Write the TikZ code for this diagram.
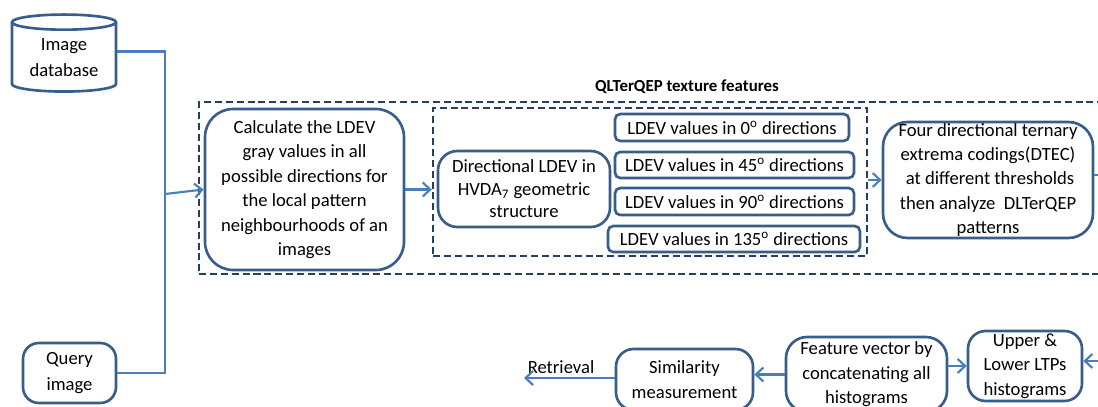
\documentclass[tikz,border=0pt]{standalone}
\usepackage{fontspec}
\setmainfont{Carlito}
\usetikzlibrary{arrows.meta,positioning,calc,shapes.geometric}
\definecolor{boxblue}{HTML}{385D8A}
\definecolor{linkblue}{HTML}{4A7EBB}
\definecolor{framenavy}{HTML}{243F60}
\tikzset{
  stage/.style={rectangle, rounded corners=#1, draw=boxblue, line width=1.5pt, fill=white,
                align=center, inner sep=0pt, font=\fontsize{10.6}{13.9}\selectfont},
  stage/.default=12pt,
  frame/.style={rectangle, draw=framenavy, line width=1.4pt, dash pattern=on 4pt off 2.2pt, inner sep=0pt},
  link/.style={line width=1.2pt, draw=linkblue},
  arr/.style={-{Straight Barb[length=1.5mm,width=2.8mm]}, line width=1.2pt, draw=linkblue},
}

\begin{document}
\begin{tikzpicture}
\useasboundingbox (0,0) rectangle (21.96,-8.14);
\clip (0,0) rectangle (21.96,-8.14);
% inputs
\node[cylinder, shape border rotate=90, aspect=0.22, draw=boxblue, line width=1.5pt, minimum width=2.08cm, minimum height=1.54cm, align=center, inner sep=0pt, font=\fontsize{10.6}{14.6}\selectfont] (db) at (1.28,-1.15) {Image\\database};
\node[stage=9pt, minimum width=1.86cm, minimum height=1.2cm, font=\fontsize{10.6}{14.6}\selectfont] (query) at (1.39,-7.46) {Query\\image};
\coordinate (bus) at (3.3,-3.88);
\draw[link] ([yshift=3.4pt]db.east) -| (bus) |- (query.east);
% texture feature block
\node[frame, minimum width=18.12cm, minimum height=3.44cm] (outer) at (13.04,-3.76) {};
\node[font=\fontsize{9.6}{11}\selectfont\bfseries] (title) at (13.74,-1.74) {QLTerQEP texture features};
\node[frame, minimum width=8.68cm, minimum height=2.96cm] (inner) at (13.0,-3.64) {};
\node[stage=16pt, minimum width=3.98cm, minimum height=3.22cm] (calc) at (6.09,-3.79) {Calculate the LDEV\\gray values in all\\possible directions for\\the local pattern\\neighbourhoods of an\\images};
\node[stage=11pt, minimum width=3.44cm, minimum height=1.52cm, font=\fontsize{10.6}{12.8}\selectfont] (dirl) at (10.48,-3.78) {Directional LDEV in\\HVDA\textsubscript{7} geometric\\structure};
\node[stage=3pt, minimum width=4.68cm, minimum height=0.54cm] (d0) at (14.64,-2.55) {LDEV values in 0\textsuperscript{o} directions};
\node[stage=3pt, minimum width=4.78cm, minimum height=0.52cm] (d45) at (14.69,-3.30) {LDEV values in 45\textsuperscript{o} directions};
\node[stage=3pt, minimum width=4.78cm, minimum height=0.54cm] (d90) at (14.69,-4.03) {LDEV values in 90\textsuperscript{o} directions};
\node[stage=3pt, minimum width=5.04cm, minimum height=0.52cm] (d135) at (14.68,-4.78) {LDEV values in 135\textsuperscript{o} directions};
\node[stage=14pt, minimum width=4.2cm, minimum height=2.32cm] (dtec) at (19.76,-3.60) {Four directional ternary\\extrema codings(DTEC)\\\ at different thresholds\\then analyze\ \ DLTerQEP\\patterns};
\draw[arr] (bus) -- (calc.west);
\draw[arr] (calc.east) -- (calc.east -| inner.west);
\draw[arr] (inner.east |- dtec.west) -- (dtec.west);
\coordinate (outR) at (22.2,-3.5);
\draw[link] (dtec.east |- outR) -- (outR);
% histograms and matching
\node[stage=10pt, minimum width=2.28cm, minimum height=1.4cm] (hist) at (20.5,-7.32) {Upper \&\\Lower LTPs\\histograms};
\node[stage=12pt, minimum width=3.22cm, minimum height=1.5cm] (feat) at (17.33,-7.49) {Feature vector by\\concatenating all\\histograms};
\node[stage=10pt, minimum width=2.74cm, minimum height=1.22cm] (sim) at (13.69,-7.59) {Similarity\\measurement};
\coordinate (inR) at (22.2,-7.22);
\coordinate (ret) at (10.48,-7.56);
\node[font=\fontsize{10.6}{13.9}\selectfont] (retlabel) at (11.22,-7.34) {Retrieval};
\draw[arr] (inR) -- (inR -| hist.east);
\draw[arr] (hist.west -| feat.east) -- (hist.west);
\draw[arr] (feat.west) -- (feat.west -| sim.east);
\draw[arr] (sim.west |- ret) -- (ret);
\end{tikzpicture}
\end{document}
